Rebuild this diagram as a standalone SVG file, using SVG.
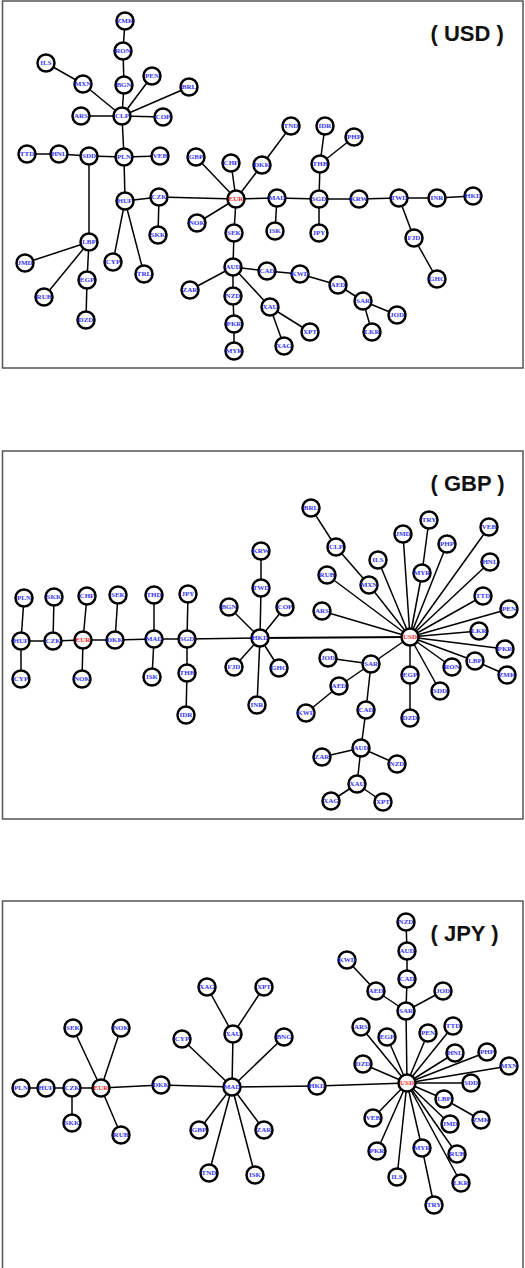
<svg xmlns="http://www.w3.org/2000/svg" width="525" height="1268" viewBox="0 0 525 1268">
<style>
.frame{fill:none;stroke:#555;stroke-width:1.5}
.title{font-family:"Liberation Sans",Arial,sans-serif;font-weight:bold;font-size:22px;fill:#111}
.edges line{stroke:#000;stroke-width:1.5}
.n circle{fill:#fff;stroke:#000;stroke-width:2.5}
.n text{font-family:"Liberation Serif","Times New Roman",serif;font-weight:bold;font-size:7px;fill:#3434ff;text-anchor:middle}
.n.r text{fill:#ff2a2a}
</style>
<rect width="525" height="1268" fill="#fff"/>
<rect class="frame" x="2.5" y="1" width="520.5" height="367"/>
<rect class="frame" x="2.5" y="451" width="520.5" height="368"/>
<rect class="frame" x="2.5" y="901" width="520.5" height="368"/>
<text class="title" x="430.5" y="40.5">( USD )</text>
<text class="title" x="430.5" y="490.5">( GBP )</text>
<text class="title" x="430.5" y="941">( JPY )</text>

<g id="connectors" class="edges">
<!-- panel 1 -->
<line x1="125" y1="21" x2="123" y2="51"/>
<line x1="123" y1="51" x2="124" y2="85"/>
<line x1="124" y1="85" x2="122" y2="116"/>
<line x1="46" y1="63" x2="83" y2="84"/>
<line x1="83" y1="84" x2="122" y2="116"/>
<line x1="152" y1="76" x2="122" y2="116"/>
<line x1="189" y1="87" x2="122" y2="116"/>
<line x1="81" y1="116" x2="122" y2="116"/>
<line x1="122" y1="116" x2="163" y2="117"/>
<line x1="122" y1="116" x2="124" y2="157"/>
<line x1="27" y1="154" x2="59" y2="154"/>
<line x1="59" y1="154" x2="89" y2="156"/>
<line x1="89" y1="156" x2="124" y2="157"/>
<line x1="124" y1="157" x2="160" y2="156"/>
<line x1="124" y1="157" x2="125" y2="201"/>
<line x1="89" y1="156" x2="89" y2="242"/>
<line x1="125" y1="201" x2="159" y2="197"/>
<line x1="125" y1="201" x2="113" y2="262"/>
<line x1="125" y1="201" x2="144" y2="274"/>
<line x1="159" y1="197" x2="158" y2="235"/>
<line x1="159" y1="197" x2="236" y2="199"/>
<line x1="196" y1="157" x2="236" y2="199"/>
<line x1="231" y1="163" x2="236" y2="199"/>
<line x1="262" y1="165" x2="236" y2="199"/>
<line x1="291" y1="126" x2="262" y2="165"/>
<line x1="236" y1="199" x2="197" y2="223"/>
<line x1="236" y1="199" x2="234" y2="233"/>
<line x1="236" y1="199" x2="277" y2="198"/>
<line x1="234" y1="233" x2="233" y2="267"/>
<line x1="89" y1="242" x2="25" y2="263"/>
<line x1="89" y1="242" x2="44" y2="297"/>
<line x1="89" y1="242" x2="87" y2="280"/>
<line x1="87" y1="280" x2="86" y2="320"/>
<line x1="233" y1="267" x2="190" y2="290"/>
<line x1="233" y1="267" x2="233" y2="296"/>
<line x1="233" y1="296" x2="234" y2="324"/>
<line x1="234" y1="324" x2="234" y2="351"/>
<line x1="233" y1="267" x2="267" y2="271"/>
<line x1="233" y1="267" x2="270" y2="307"/>
<line x1="267" y1="271" x2="300" y2="274"/>
<line x1="300" y1="274" x2="338" y2="285"/>
<line x1="338" y1="285" x2="363" y2="301"/>
<line x1="363" y1="301" x2="397" y2="315"/>
<line x1="363" y1="301" x2="372" y2="332"/>
<line x1="270" y1="307" x2="310" y2="332"/>
<line x1="270" y1="307" x2="284" y2="346"/>
<line x1="277" y1="198" x2="319" y2="199"/>
<line x1="277" y1="198" x2="275" y2="231"/>
<line x1="319" y1="199" x2="320" y2="164"/>
<line x1="320" y1="164" x2="325" y2="126"/>
<line x1="320" y1="164" x2="354" y2="137"/>
<line x1="319" y1="199" x2="319" y2="233"/>
<line x1="319" y1="199" x2="359" y2="199"/>
<line x1="359" y1="199" x2="399" y2="198"/>
<line x1="399" y1="198" x2="437" y2="198"/>
<line x1="437" y1="198" x2="473" y2="196"/>
<line x1="399" y1="198" x2="414" y2="238"/>
<line x1="414" y1="238" x2="437" y2="279"/>
<!-- panel 2 -->
<line x1="24" y1="598" x2="21" y2="641"/>
<line x1="54" y1="597" x2="53" y2="641"/>
<line x1="87" y1="596" x2="83" y2="640"/>
<line x1="118" y1="595" x2="115" y2="640"/>
<line x1="154" y1="595" x2="154" y2="639"/>
<line x1="188" y1="594" x2="187" y2="639"/>
<line x1="21" y1="641" x2="53" y2="641"/>
<line x1="53" y1="641" x2="83" y2="640"/>
<line x1="83" y1="640" x2="115" y2="640"/>
<line x1="115" y1="640" x2="154" y2="639"/>
<line x1="154" y1="639" x2="187" y2="639"/>
<line x1="187" y1="639" x2="260" y2="638"/>
<line x1="21" y1="641" x2="21" y2="679"/>
<line x1="83" y1="640" x2="82" y2="679"/>
<line x1="154" y1="639" x2="152" y2="677"/>
<line x1="187" y1="639" x2="187" y2="673"/>
<line x1="187" y1="673" x2="186" y2="715"/>
<line x1="260" y1="638" x2="229" y2="607"/>
<line x1="260" y1="638" x2="261" y2="588"/>
<line x1="261" y1="588" x2="261" y2="551"/>
<line x1="260" y1="638" x2="285" y2="607"/>
<line x1="260" y1="638" x2="234" y2="667"/>
<line x1="260" y1="638" x2="279" y2="668"/>
<line x1="260" y1="638" x2="257" y2="705"/>
<line x1="260" y1="638" x2="410" y2="637" style="stroke-width:2"/>
<line x1="311" y1="508" x2="336" y2="547"/>
<line x1="336" y1="547" x2="369" y2="585"/>
<line x1="369" y1="585" x2="410" y2="637"/>
<line x1="378" y1="560" x2="410" y2="637"/>
<line x1="403" y1="534" x2="410" y2="637"/>
<line x1="429" y1="520" x2="422" y2="573"/>
<line x1="422" y1="573" x2="410" y2="637"/>
<line x1="447" y1="544" x2="410" y2="637"/>
<line x1="489" y1="527" x2="410" y2="637"/>
<line x1="490" y1="562" x2="410" y2="637"/>
<line x1="483" y1="596" x2="410" y2="637"/>
<line x1="509" y1="609" x2="410" y2="637"/>
<line x1="327" y1="575" x2="410" y2="637"/>
<line x1="322" y1="611" x2="410" y2="637"/>
<line x1="479" y1="631" x2="410" y2="637"/>
<line x1="505" y1="649" x2="410" y2="637"/>
<line x1="475" y1="661" x2="410" y2="637"/>
<line x1="475" y1="661" x2="507" y2="675"/>
<line x1="452" y1="667" x2="410" y2="637"/>
<line x1="440" y1="691" x2="410" y2="637"/>
<line x1="410" y1="675" x2="410" y2="637"/>
<line x1="410" y1="675" x2="410" y2="718"/>
<line x1="371" y1="664" x2="410" y2="637"/>
<line x1="371" y1="664" x2="328" y2="658"/>
<line x1="371" y1="664" x2="339" y2="686"/>
<line x1="339" y1="686" x2="306" y2="713"/>
<line x1="371" y1="664" x2="366" y2="710"/>
<line x1="366" y1="710" x2="361" y2="748"/>
<line x1="361" y1="748" x2="322" y2="757"/>
<line x1="361" y1="748" x2="397" y2="764"/>
<line x1="361" y1="748" x2="357" y2="784"/>
<line x1="357" y1="784" x2="331" y2="801"/>
<line x1="357" y1="784" x2="383" y2="802"/>
<!-- panel 3 -->
<line x1="21" y1="1088" x2="46" y2="1088"/>
<line x1="46" y1="1088" x2="72" y2="1088"/>
<line x1="72" y1="1088" x2="101" y2="1088"/>
<line x1="72" y1="1088" x2="72" y2="1123"/>
<line x1="73" y1="1028" x2="101" y2="1088"/>
<line x1="121" y1="1028" x2="101" y2="1088"/>
<line x1="101" y1="1088" x2="121" y2="1135"/>
<line x1="101" y1="1088" x2="161" y2="1085"/>
<line x1="161" y1="1085" x2="232" y2="1087"/>
<line x1="232" y1="1087" x2="182" y2="1039"/>
<line x1="232" y1="1087" x2="233" y2="1034"/>
<line x1="233" y1="1034" x2="207" y2="987"/>
<line x1="233" y1="1034" x2="264" y2="987"/>
<line x1="232" y1="1087" x2="284" y2="1037"/>
<line x1="232" y1="1087" x2="199" y2="1130"/>
<line x1="232" y1="1087" x2="209" y2="1173"/>
<line x1="232" y1="1087" x2="255" y2="1175"/>
<line x1="232" y1="1087" x2="264" y2="1130"/>
<line x1="232" y1="1087" x2="317" y2="1086"/>
<line x1="317" y1="1086" x2="407" y2="1083"/>
<line x1="407" y1="1083" x2="361" y2="1027"/>
<line x1="407" y1="1083" x2="387" y2="1037"/>
<line x1="407" y1="1083" x2="363" y2="1064"/>
<line x1="407" y1="1083" x2="428" y2="1033"/>
<line x1="407" y1="1083" x2="453" y2="1026"/>
<line x1="407" y1="1083" x2="455" y2="1053"/>
<line x1="407" y1="1083" x2="487" y2="1052"/>
<line x1="407" y1="1083" x2="509" y2="1066"/>
<line x1="407" y1="1083" x2="471" y2="1083"/>
<line x1="407" y1="1083" x2="444" y2="1099"/>
<line x1="444" y1="1099" x2="481" y2="1120"/>
<line x1="407" y1="1083" x2="450" y2="1124"/>
<line x1="407" y1="1083" x2="457" y2="1154"/>
<line x1="407" y1="1083" x2="461" y2="1183"/>
<line x1="407" y1="1083" x2="422" y2="1148"/>
<line x1="422" y1="1148" x2="434" y2="1205"/>
<line x1="407" y1="1083" x2="397" y2="1177"/>
<line x1="407" y1="1083" x2="377" y2="1151"/>
<line x1="407" y1="1083" x2="373" y2="1118"/>
<line x1="407" y1="1083" x2="406" y2="1011"/>
<line x1="406" y1="1011" x2="407" y2="979"/>
<line x1="407" y1="979" x2="407" y2="951"/>
<line x1="407" y1="951" x2="406" y2="922"/>
<line x1="406" y1="1011" x2="376" y2="991"/>
<line x1="376" y1="991" x2="347" y2="960"/>
<line x1="406" y1="1011" x2="443" y2="991"/>
</g>

<g id="panel-usd">
<g id="p1-ZMK" class="n"><circle cx="125" cy="21" r="8.5"/><text x="125" y="23.4">ZMK</text></g>
<g id="p1-RON" class="n"><circle cx="123" cy="51" r="8.5"/><text x="123" y="53.4">RON</text></g>
<g id="p1-ILS" class="n"><circle cx="46" cy="63" r="8.5"/><text x="46" y="65.4">ILS</text></g>
<g id="p1-MXN" class="n"><circle cx="83" cy="84" r="8.5"/><text x="83" y="86.4">MXN</text></g>
<g id="p1-BGN" class="n"><circle cx="124" cy="85" r="8.5"/><text x="124" y="87.4">BGN</text></g>
<g id="p1-PEN" class="n"><circle cx="152" cy="76" r="8.5"/><text x="152" y="78.4">PEN</text></g>
<g id="p1-BRL" class="n"><circle cx="189" cy="87" r="8.5"/><text x="189" y="89.4">BRL</text></g>
<g id="p1-ARS" class="n"><circle cx="81" cy="116" r="8.5"/><text x="81" y="118.4">ARS</text></g>
<g id="p1-CLP" class="n"><circle cx="122" cy="116" r="8.5"/><text x="122" y="118.4">CLP</text></g>
<g id="p1-COP" class="n"><circle cx="163" cy="117" r="8.5"/><text x="163" y="119.4">COP</text></g>
<g id="p1-TTD" class="n"><circle cx="27" cy="154" r="8.5"/><text x="27" y="156.4">TTD</text></g>
<g id="p1-HNL" class="n"><circle cx="59" cy="154" r="8.5"/><text x="59" y="156.4">HNL</text></g>
<g id="p1-SDD" class="n"><circle cx="89" cy="156" r="8.5"/><text x="89" y="158.4">SDD</text></g>
<g id="p1-PLN" class="n"><circle cx="124" cy="157" r="8.5"/><text x="124" y="159.4">PLN</text></g>
<g id="p1-VEB" class="n"><circle cx="160" cy="156" r="8.5"/><text x="160" y="158.4">VEB</text></g>
<g id="p1-GBP" class="n"><circle cx="196" cy="157" r="8.5"/><text x="196" y="159.4">GBP</text></g>
<g id="p1-CHF" class="n"><circle cx="231" cy="163" r="8.5"/><text x="231" y="165.4">CHF</text></g>
<g id="p1-DKK" class="n"><circle cx="262" cy="165" r="8.5"/><text x="262" y="167.4">DKK</text></g>
<g id="p1-TND" class="n"><circle cx="291" cy="126" r="8.5"/><text x="291" y="128.4">TND</text></g>
<g id="p1-IDR" class="n"><circle cx="325" cy="126" r="8.5"/><text x="325" y="128.4">IDR</text></g>
<g id="p1-PHP" class="n"><circle cx="354" cy="137" r="8.5"/><text x="354" y="139.4">PHP</text></g>
<g id="p1-THB" class="n"><circle cx="320" cy="164" r="8.5"/><text x="320" y="166.4">THB</text></g>
<g id="p1-EUR" class="n r"><circle cx="236" cy="199" r="8.5"/><text x="236" y="201.4">EUR</text></g>
<g id="p1-HUF" class="n"><circle cx="125" cy="201" r="8.5"/><text x="125" y="203.4">HUF</text></g>
<g id="p1-CZK" class="n"><circle cx="159" cy="197" r="8.5"/><text x="159" y="199.4">CZK</text></g>
<g id="p1-NOK" class="n"><circle cx="197" cy="223" r="8.5"/><text x="197" y="225.4">NOK</text></g>
<g id="p1-SEK" class="n"><circle cx="234" cy="233" r="8.5"/><text x="234" y="235.4">SEK</text></g>
<g id="p1-SKK" class="n"><circle cx="158" cy="235" r="8.5"/><text x="158" y="237.4">SKK</text></g>
<g id="p1-LBP" class="n"><circle cx="89" cy="242" r="8.5"/><text x="89" y="244.4">LBP</text></g>
<g id="p1-CYP" class="n"><circle cx="113" cy="262" r="8.5"/><text x="113" y="264.4">CYP</text></g>
<g id="p1-TRL" class="n"><circle cx="144" cy="274" r="8.5"/><text x="144" y="276.4">TRL</text></g>
<g id="p1-JMD" class="n"><circle cx="25" cy="263" r="8.5"/><text x="25" y="265.4">JMD</text></g>
<g id="p1-RUB" class="n"><circle cx="44" cy="297" r="8.5"/><text x="44" y="299.4">RUB</text></g>
<g id="p1-EGP" class="n"><circle cx="87" cy="280" r="8.5"/><text x="87" y="282.4">EGP</text></g>
<g id="p1-DZD" class="n"><circle cx="86" cy="320" r="8.5"/><text x="86" y="322.4">DZD</text></g>
<g id="p1-AUD" class="n"><circle cx="233" cy="267" r="8.5"/><text x="233" y="269.4">AUD</text></g>
<g id="p1-ZAR" class="n"><circle cx="190" cy="290" r="8.5"/><text x="190" y="292.4">ZAR</text></g>
<g id="p1-NZD" class="n"><circle cx="233" cy="296" r="8.5"/><text x="233" y="298.4">NZD</text></g>
<g id="p1-PKR" class="n"><circle cx="234" cy="324" r="8.5"/><text x="234" y="326.4">PKR</text></g>
<g id="p1-MYR" class="n"><circle cx="234" cy="351" r="8.5"/><text x="234" y="353.4">MYR</text></g>
<g id="p1-MAD" class="n"><circle cx="277" cy="198" r="8.5"/><text x="277" y="200.4">MAD</text></g>
<g id="p1-SGD" class="n"><circle cx="319" cy="199" r="8.5"/><text x="319" y="201.4">SGD</text></g>
<g id="p1-KRW" class="n"><circle cx="359" cy="199" r="8.5"/><text x="359" y="201.4">KRW</text></g>
<g id="p1-TWD" class="n"><circle cx="399" cy="198" r="8.5"/><text x="399" y="200.4">TWD</text></g>
<g id="p1-INR" class="n"><circle cx="437" cy="198" r="8.5"/><text x="437" y="200.4">INR</text></g>
<g id="p1-HKD" class="n"><circle cx="473" cy="196" r="8.5"/><text x="473" y="198.4">HKD</text></g>
<g id="p1-ISK" class="n"><circle cx="275" cy="231" r="8.5"/><text x="275" y="233.4">ISK</text></g>
<g id="p1-JPY" class="n"><circle cx="319" cy="233" r="8.5"/><text x="319" y="235.4">JPY</text></g>
<g id="p1-FJD" class="n"><circle cx="414" cy="238" r="8.5"/><text x="414" y="240.4">FJD</text></g>
<g id="p1-GHC" class="n"><circle cx="437" cy="279" r="8.5"/><text x="437" y="281.4">GHC</text></g>
<g id="p1-CAD" class="n"><circle cx="267" cy="271" r="8.5"/><text x="267" y="273.4">CAD</text></g>
<g id="p1-KWD" class="n"><circle cx="300" cy="274" r="8.5"/><text x="300" y="276.4">KWD</text></g>
<g id="p1-AED" class="n"><circle cx="338" cy="285" r="8.5"/><text x="338" y="287.4">AED</text></g>
<g id="p1-SAR" class="n"><circle cx="363" cy="301" r="8.5"/><text x="363" y="303.4">SAR</text></g>
<g id="p1-JOD" class="n"><circle cx="397" cy="315" r="8.5"/><text x="397" y="317.4">JOD</text></g>
<g id="p1-LKR" class="n"><circle cx="372" cy="332" r="8.5"/><text x="372" y="334.4">LKR</text></g>
<g id="p1-XAU" class="n"><circle cx="270" cy="307" r="8.5"/><text x="270" y="309.4">XAU</text></g>
<g id="p1-XPT" class="n"><circle cx="310" cy="332" r="8.5"/><text x="310" y="334.4">XPT</text></g>
<g id="p1-XAG" class="n"><circle cx="284" cy="346" r="8.5"/><text x="284" y="348.4">XAG</text></g>
</g>

<g id="panel-gbp">
<g id="p2-PLN" class="n"><circle cx="24" cy="598" r="8.5"/><text x="24" y="600.4">PLN</text></g>
<g id="p2-SKK" class="n"><circle cx="54" cy="597" r="8.5"/><text x="54" y="599.4">SKK</text></g>
<g id="p2-CHF" class="n"><circle cx="87" cy="596" r="8.5"/><text x="87" y="598.4">CHF</text></g>
<g id="p2-SEK" class="n"><circle cx="118" cy="595" r="8.5"/><text x="118" y="597.4">SEK</text></g>
<g id="p2-THD" class="n"><circle cx="154" cy="595" r="8.5"/><text x="154" y="597.4">THD</text></g>
<g id="p2-JPY" class="n"><circle cx="188" cy="594" r="8.5"/><text x="188" y="596.4">JPY</text></g>
<g id="p2-BGN" class="n"><circle cx="229" cy="607" r="8.5"/><text x="229" y="609.4">BGN</text></g>
<g id="p2-KRW" class="n"><circle cx="261" cy="551" r="8.5"/><text x="261" y="553.4">KRW</text></g>
<g id="p2-TWD" class="n"><circle cx="261" cy="588" r="8.5"/><text x="261" y="590.4">TWD</text></g>
<g id="p2-COP" class="n"><circle cx="285" cy="607" r="8.5"/><text x="285" y="609.4">COP</text></g>
<g id="p2-HUF" class="n"><circle cx="21" cy="641" r="8.5"/><text x="21" y="643.4">HUF</text></g>
<g id="p2-CZK" class="n"><circle cx="53" cy="641" r="8.5"/><text x="53" y="643.4">CZK</text></g>
<g id="p2-EUR" class="n r"><circle cx="83" cy="640" r="8.5"/><text x="83" y="642.4">EUR</text></g>
<g id="p2-DKK" class="n"><circle cx="115" cy="640" r="8.5"/><text x="115" y="642.4">DKK</text></g>
<g id="p2-MAD" class="n"><circle cx="154" cy="639" r="8.5"/><text x="154" y="641.4">MAD</text></g>
<g id="p2-SGD" class="n"><circle cx="187" cy="639" r="8.5"/><text x="187" y="641.4">SGD</text></g>
<g id="p2-HKD" class="n"><circle cx="260" cy="638" r="8.5"/><text x="260" y="640.4">HKD</text></g>
<g id="p2-CYP" class="n"><circle cx="21" cy="679" r="8.5"/><text x="21" y="681.4">CYP</text></g>
<g id="p2-NOK" class="n"><circle cx="82" cy="679" r="8.5"/><text x="82" y="681.4">NOK</text></g>
<g id="p2-ISK" class="n"><circle cx="152" cy="677" r="8.5"/><text x="152" y="679.4">ISK</text></g>
<g id="p2-THB" class="n"><circle cx="187" cy="673" r="8.5"/><text x="187" y="675.4">THB</text></g>
<g id="p2-IDR" class="n"><circle cx="186" cy="715" r="8.5"/><text x="186" y="717.4">IDR</text></g>
<g id="p2-FJD" class="n"><circle cx="234" cy="667" r="8.5"/><text x="234" y="669.4">FJD</text></g>
<g id="p2-GHC" class="n"><circle cx="279" cy="668" r="8.5"/><text x="279" y="670.4">GHC</text></g>
<g id="p2-INR" class="n"><circle cx="257" cy="705" r="8.5"/><text x="257" y="707.4">INR</text></g>
<g id="p2-BRL" class="n"><circle cx="311" cy="508" r="8.5"/><text x="311" y="510.4">BRL</text></g>
<g id="p2-CLP" class="n"><circle cx="336" cy="547" r="8.5"/><text x="336" y="549.4">CLP</text></g>
<g id="p2-MXN" class="n"><circle cx="369" cy="585" r="8.5"/><text x="369" y="587.4">MXN</text></g>
<g id="p2-ILS" class="n"><circle cx="378" cy="560" r="8.5"/><text x="378" y="562.4">ILS</text></g>
<g id="p2-JMD" class="n"><circle cx="403" cy="534" r="8.5"/><text x="403" y="536.4">JMD</text></g>
<g id="p2-TRY" class="n"><circle cx="429" cy="520" r="8.5"/><text x="429" y="522.4">TRY</text></g>
<g id="p2-MYR" class="n"><circle cx="422" cy="573" r="8.5"/><text x="422" y="575.4">MYR</text></g>
<g id="p2-PHP" class="n"><circle cx="447" cy="544" r="8.5"/><text x="447" y="546.4">PHP</text></g>
<g id="p2-VEB" class="n"><circle cx="489" cy="527" r="8.5"/><text x="489" y="529.4">VEB</text></g>
<g id="p2-HNL" class="n"><circle cx="490" cy="562" r="8.5"/><text x="490" y="564.4">HNL</text></g>
<g id="p2-TTD" class="n"><circle cx="483" cy="596" r="8.5"/><text x="483" y="598.4">TTD</text></g>
<g id="p2-PEN" class="n"><circle cx="509" cy="609" r="8.5"/><text x="509" y="611.4">PEN</text></g>
<g id="p2-RUB" class="n"><circle cx="327" cy="575" r="8.5"/><text x="327" y="577.4">RUB</text></g>
<g id="p2-ARS" class="n"><circle cx="322" cy="611" r="8.5"/><text x="322" y="613.4">ARS</text></g>
<g id="p2-USD" class="n r"><circle cx="410" cy="637" r="8.5"/><text x="410" y="639.4">USD</text></g>
<g id="p2-LKR" class="n"><circle cx="479" cy="631" r="8.5"/><text x="479" y="633.4">LKR</text></g>
<g id="p2-PKR" class="n"><circle cx="505" cy="649" r="8.5"/><text x="505" y="651.4">PKR</text></g>
<g id="p2-LBP" class="n"><circle cx="475" cy="661" r="8.5"/><text x="475" y="663.4">LBP</text></g>
<g id="p2-ZMK" class="n"><circle cx="507" cy="675" r="8.5"/><text x="507" y="677.4">ZMK</text></g>
<g id="p2-RON" class="n"><circle cx="452" cy="667" r="8.5"/><text x="452" y="669.4">RON</text></g>
<g id="p2-SDD" class="n"><circle cx="440" cy="691" r="8.5"/><text x="440" y="693.4">SDD</text></g>
<g id="p2-EGP" class="n"><circle cx="410" cy="675" r="8.5"/><text x="410" y="677.4">EGP</text></g>
<g id="p2-DZD" class="n"><circle cx="410" cy="718" r="8.5"/><text x="410" y="720.4">DZD</text></g>
<g id="p2-JOD" class="n"><circle cx="328" cy="658" r="8.5"/><text x="328" y="660.4">JOD</text></g>
<g id="p2-SAR" class="n"><circle cx="371" cy="664" r="8.5"/><text x="371" y="666.4">SAR</text></g>
<g id="p2-AED" class="n"><circle cx="339" cy="686" r="8.5"/><text x="339" y="688.4">AED</text></g>
<g id="p2-KWD" class="n"><circle cx="306" cy="713" r="8.5"/><text x="306" y="715.4">KWD</text></g>
<g id="p2-CAD" class="n"><circle cx="366" cy="710" r="8.5"/><text x="366" y="712.4">CAD</text></g>
<g id="p2-AUD" class="n"><circle cx="361" cy="748" r="8.5"/><text x="361" y="750.4">AUD</text></g>
<g id="p2-ZAR" class="n"><circle cx="322" cy="757" r="8.5"/><text x="322" y="759.4">ZAR</text></g>
<g id="p2-NZD" class="n"><circle cx="397" cy="764" r="8.5"/><text x="397" y="766.4">NZD</text></g>
<g id="p2-XAU" class="n"><circle cx="357" cy="784" r="8.5"/><text x="357" y="786.4">XAU</text></g>
<g id="p2-XAG" class="n"><circle cx="331" cy="801" r="8.5"/><text x="331" y="803.4">XAG</text></g>
<g id="p2-XPT" class="n"><circle cx="383" cy="802" r="8.5"/><text x="383" y="804.4">XPT</text></g>
</g>

<g id="panel-jpy">
<g id="p3-NZD" class="n"><circle cx="406" cy="922" r="8.5"/><text x="406" y="924.4">NZD</text></g>
<g id="p3-AUD" class="n"><circle cx="407" cy="951" r="8.5"/><text x="407" y="953.4">AUD</text></g>
<g id="p3-KWD" class="n"><circle cx="347" cy="960" r="8.5"/><text x="347" y="962.4">KWD</text></g>
<g id="p3-CAD" class="n"><circle cx="407" cy="979" r="8.5"/><text x="407" y="981.4">CAD</text></g>
<g id="p3-AED" class="n"><circle cx="376" cy="991" r="8.5"/><text x="376" y="993.4">AED</text></g>
<g id="p3-JOD" class="n"><circle cx="443" cy="991" r="8.5"/><text x="443" y="993.4">JOD</text></g>
<g id="p3-SAR" class="n"><circle cx="406" cy="1011" r="8.5"/><text x="406" y="1013.4">SAR</text></g>
<g id="p3-XAG" class="n"><circle cx="207" cy="987" r="8.5"/><text x="207" y="989.4">XAG</text></g>
<g id="p3-XPT" class="n"><circle cx="264" cy="987" r="8.5"/><text x="264" y="989.4">XPT</text></g>
<g id="p3-SEK" class="n"><circle cx="73" cy="1028" r="8.5"/><text x="73" y="1030.4">SEK</text></g>
<g id="p3-NOK" class="n"><circle cx="121" cy="1028" r="8.5"/><text x="121" y="1030.4">NOK</text></g>
<g id="p3-CYP" class="n"><circle cx="182" cy="1039" r="8.5"/><text x="182" y="1041.4">CYP</text></g>
<g id="p3-XAU" class="n"><circle cx="233" cy="1034" r="8.5"/><text x="233" y="1036.4">XAU</text></g>
<g id="p3-PLN" class="n"><circle cx="21" cy="1088" r="8.5"/><text x="21" y="1090.4">PLN</text></g>
<g id="p3-HUF" class="n"><circle cx="46" cy="1088" r="8.5"/><text x="46" y="1090.4">HUF</text></g>
<g id="p3-CZK" class="n"><circle cx="72" cy="1088" r="8.5"/><text x="72" y="1090.4">CZK</text></g>
<g id="p3-EUR" class="n r"><circle cx="101" cy="1088" r="8.5"/><text x="101" y="1090.4">EUR</text></g>
<g id="p3-DKK" class="n"><circle cx="161" cy="1085" r="8.5"/><text x="161" y="1087.4">DKK</text></g>
<g id="p3-MAD" class="n"><circle cx="232" cy="1087" r="8.5"/><text x="232" y="1089.4">MAD</text></g>
<g id="p3-SKK" class="n"><circle cx="72" cy="1123" r="8.5"/><text x="72" y="1125.4">SKK</text></g>
<g id="p3-RUB" class="n"><circle cx="121" cy="1135" r="8.5"/><text x="121" y="1137.4">RUB</text></g>
<g id="p3-GBP" class="n"><circle cx="199" cy="1130" r="8.5"/><text x="199" y="1132.4">GBP</text></g>
<g id="p3-ZAR" class="n"><circle cx="264" cy="1130" r="8.5"/><text x="264" y="1132.4">ZAR</text></g>
<g id="p3-TND" class="n"><circle cx="209" cy="1173" r="8.5"/><text x="209" y="1175.4">TND</text></g>
<g id="p3-ISK" class="n"><circle cx="255" cy="1175" r="8.5"/><text x="255" y="1177.4">ISK</text></g>
<g id="p3-ARS" class="n"><circle cx="361" cy="1027" r="8.5"/><text x="361" y="1029.4">ARS</text></g>
<g id="p3-EGP" class="n"><circle cx="387" cy="1037" r="8.5"/><text x="387" y="1039.4">EGP</text></g>
<g id="p3-PEN" class="n"><circle cx="428" cy="1033" r="8.5"/><text x="428" y="1035.4">PEN</text></g>
<g id="p3-TTD" class="n"><circle cx="453" cy="1026" r="8.5"/><text x="453" y="1028.4">TTD</text></g>
<g id="p3-BNG" class="n"><circle cx="284" cy="1037" r="8.5"/><text x="284" y="1039.4">BNG</text></g>
<g id="p3-HNL" class="n"><circle cx="455" cy="1053" r="8.5"/><text x="455" y="1055.4">HNL</text></g>
<g id="p3-PHP" class="n"><circle cx="487" cy="1052" r="8.5"/><text x="487" y="1054.4">PHP</text></g>
<g id="p3-MXN" class="n"><circle cx="509" cy="1066" r="8.5"/><text x="509" y="1068.4">MXN</text></g>
<g id="p3-DZD" class="n"><circle cx="363" cy="1064" r="8.5"/><text x="363" y="1066.4">DZD</text></g>
<g id="p3-USD" class="n r"><circle cx="407" cy="1083" r="8.5"/><text x="407" y="1085.4">USD</text></g>
<g id="p3-HKD" class="n"><circle cx="317" cy="1086" r="8.5"/><text x="317" y="1088.4">HKD</text></g>
<g id="p3-SDD" class="n"><circle cx="471" cy="1083" r="8.5"/><text x="471" y="1085.4">SDD</text></g>
<g id="p3-LBP" class="n"><circle cx="444" cy="1099" r="8.5"/><text x="444" y="1101.4">LBP</text></g>
<g id="p3-ZMK" class="n"><circle cx="481" cy="1120" r="8.5"/><text x="481" y="1122.4">ZMK</text></g>
<g id="p3-JMD" class="n"><circle cx="450" cy="1124" r="8.5"/><text x="450" y="1126.4">JMD</text></g>
<g id="p3-VEB" class="n"><circle cx="373" cy="1118" r="8.5"/><text x="373" y="1120.4">VEB</text></g>
<g id="p3-PKR" class="n"><circle cx="377" cy="1151" r="8.5"/><text x="377" y="1153.4">PKR</text></g>
<g id="p3-MYR" class="n"><circle cx="422" cy="1148" r="8.5"/><text x="422" y="1150.4">MYR</text></g>
<g id="p3-RUB2" class="n"><circle cx="457" cy="1154" r="8.5"/><text x="457" y="1156.4">RUB</text></g>
<g id="p3-ILS" class="n"><circle cx="397" cy="1177" r="8.5"/><text x="397" y="1179.4">ILS</text></g>
<g id="p3-LKR" class="n"><circle cx="461" cy="1183" r="8.5"/><text x="461" y="1185.4">LKR</text></g>
<g id="p3-TRY" class="n"><circle cx="434" cy="1205" r="8.5"/><text x="434" y="1207.4">TRY</text></g>
</g>
</svg>
